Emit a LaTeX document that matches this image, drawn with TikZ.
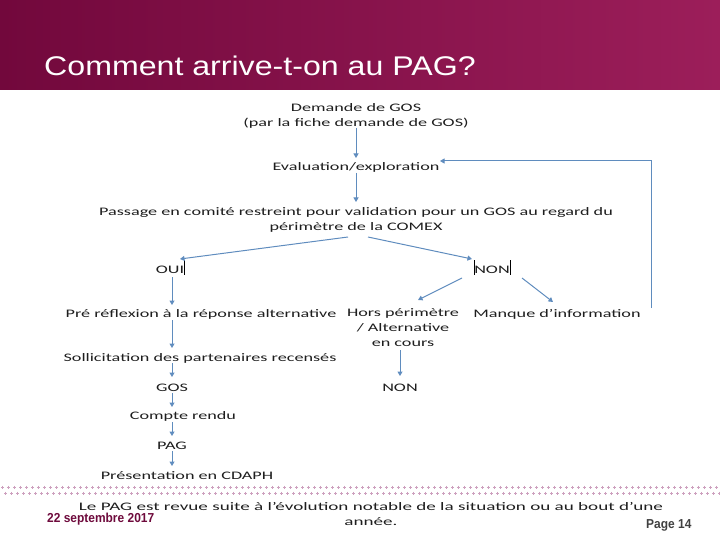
\documentclass[tikz,border=0pt]{standalone}
\usepackage{fontspec}
\setmainfont{Carlito}[FakeStretch=1.58]
\newfontfamily\titlefont{Liberation Sans}[FakeStretch=1.19]
\newfontfamily\narrowfont{Liberation Sans}[FakeStretch=0.92]
\newfontfamily\widefont{Carlito}[FakeStretch=1.66]
\usetikzlibrary{arrows.meta,calc}
\definecolor{hdrL}{RGB}{114,8,60}
\definecolor{hdrR}{RGB}{156,30,90}
\definecolor{arr}{RGB}{95,140,190}
\definecolor{txt}{RGB}{30,30,30}
\definecolor{dotc}{RGB}{205,160,190}
\definecolor{datec}{RGB}{110,10,60}
\tikzset{
  lbl/.style={text=txt,font=\fontsize{11.5}{15}\selectfont,inner sep=0pt,align=center,yshift=-2.5pt},
  flow/.style={draw=arr,line width=1pt,-{Triangle[length=4.5pt,width=5pt]}},
}
\begin{document}
\begin{tikzpicture}[x=1pt,y=-1pt]
\useasboundingbox (0,0) rectangle (720,540);
\shade[left color=hdrL,right color=hdrR] (0,0) rectangle (720,90);
\node[anchor=west,text=white,font=\titlefont\fontsize{27}{30}\selectfont,inner sep=0pt] (title) at (44,66) {Comment arrive-t-on au PAG?};

% dotted band
\foreach \i in {0,...,119}{
  \draw[dotc,line width=0.4pt] ({\i*6+1},487) -- ({\i*6+4},487) ({\i*6+2.5},485.5) -- ({\i*6+2.5},488.5);
  \draw[dotc,line width=0.4pt] ({\i*6+4},493) -- ({\i*6+7},493) ({\i*6+5.5},491.5) -- ({\i*6+5.5},494.5);
}

% nodes
\node[lbl] (dem) at (356,113) {Demande de GOS\\(par la fiche demande de GOS)};
\node[lbl] (eval) at (356,165) {Evaluation/exploration};
\node[lbl] (pass) at (356,217) {Passage en comité restreint pour validation pour un GOS au regard du\\périmètre de la COMEX};
\node[lbl] (oui) at (170,267) {OUI};
\node[lbl] (non) at (492,267) {NON};
\node[lbl] (pre) at (201,312) {Pré réflexion à la réponse alternative};
\node[lbl,anchor=north] (hors) at (403,306) {Hors périmètre\\/ Alternative\\en cours};
\node[lbl] (manq) at (557,312) {Manque d’information};
\node[lbl] (sol) at (200,356) {Sollicitation des partenaires recensés};
\node[lbl] (non2) at (400,385) {NON};
\node[lbl] (gos) at (172,385) {GOS};
\node[lbl] (cr) at (183,414) {Compte rendu};
\node[lbl] (pag) at (172,443) {PAG};
\node[lbl] (cdaph) at (187,473) {Présentation en CDAPH};
\node[lbl,font=\widefont\fontsize{11.5}{15}\selectfont] (rev) at (371,511) {Le PAG est revue suite à l’évolution notable de la situation ou au bout d’une\\année.};
\node[anchor=west,text=datec,font=\narrowfont\bfseries\fontsize{13}{15}\selectfont,inner sep=0pt] (date) at (47,519) {22 septembre 2017};
\node[anchor=west,text=black!75,font=\narrowfont\bfseries\fontsize{13}{15}\selectfont,inner sep=0pt] (page) at (646,525) {Page 14};

% cursor bars
\draw[black,line width=0.6pt] (184,260) -- (184,275);
\draw[black,line width=0.6pt] (474,260) -- (474,275);
\draw[black,line width=0.6pt] (510,260) -- (510,275);

% connector end points
\coordinate (pl) at (348,237);
\coordinate (pr) at (368,237);
\coordinate (ouiin) at (180,259);
\coordinate (nonin) at (472,259);
\coordinate (nl) at (462,278);
\coordinate (nr) at (522,278);
\coordinate (horsin) at (418,300);
\coordinate (manqin) at (553,302);
\coordinate (fb) at (651,308);

% connectors
\draw[flow] (356,128) -- (356,158);
\draw[flow] (356,173) -- (356,202);
\draw[flow] (pl) -- (ouiin);
\draw[flow] (pr) -- (nonin);
\draw[flow] (172,277) -- (172,305);
\draw[flow] (nl) -- (horsin);
\draw[flow] (nr) -- (manqin);
\draw[flow] (172,320) -- (172,348);
\draw[flow] (400,350) -- (400,376);
\draw[flow] (172,363) -- (172,377);
\draw[flow] (172,393) -- (172,407);
\draw[flow] (172,422) -- (172,436);
\draw[flow] (172,451) -- (172,466);
\draw[flow] (fb) -- (651,161) -- (440,161);
\end{tikzpicture}
\end{document}
